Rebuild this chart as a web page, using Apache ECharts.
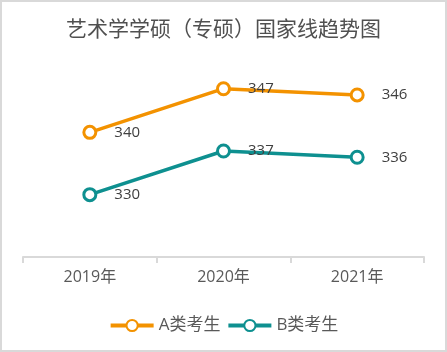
<!DOCTYPE html>
<html><head><meta charset="utf-8">
<script src="https://cdn.jsdelivr.net/npm/echarts@6/dist/echarts.min.js"></script>
<style>
html,body{margin:0;padding:0;background:#fff;}
#c{width:443px;height:348px;border:2px solid #d9d9d9;}
</style></head><body>
<div id="c"></div>
<script>
const title = '艺术学学硕（专硕）国家线趋势图';
const categories = ['2019年', '2020年', '2021年'];
const seriesNames = ['A类考生', 'B类考生'];
const seriesA = [340, 347, 346];
const seriesB = [330, 337, 336];
const colors = ['#F39200', '#0E9090'];

const chart = echarts.init(document.getElementById('c'));
function mk(name, data, color) {
  return {
    name: name, type: 'line', data: data,
    symbol: 'circle', symbolSize: 12,
    lineStyle: {width: 3.5, color: color},
    itemStyle: {color: '#fff', borderColor: color, borderWidth: 3},
    label: {show: true, position: 'right', distance: 17, color: '#404040',
      fontFamily: 'Open Sans', fontSize: 15},
    emphasis: {disabled: true}
  };
}
chart.setOption({
  animation: false,
  title: {text: title, left: 'center', top: 11,
    textStyle: {fontFamily: 'Noto Sans CJK SC', fontSize: 21, fontWeight: 'normal', color: '#505050'}},
  legend: {bottom: 11, left: 'center', itemWidth: 43, itemHeight: 14, itemGap: 6,
    lineStyle: {width: 4},
    textStyle: {fontFamily: 'Open Sans, Noto Sans CJK SC', fontSize: 17, color: '#595959'},
    data: seriesNames},
  grid: {left: 21, right: 21, top: 68, bottom: 93},
  xAxis: {type: 'category', data: categories, boundaryGap: true,
    axisLine: {lineStyle: {color: '#d9d9d9', width: 2}},
    axisTick: {show: true, length: 6, lineStyle: {color: '#d9d9d9', width: 2}},
    axisLabel: {margin: 12, color: '#595959', fontFamily: 'Open Sans, Noto Sans CJK SC', fontSize: 16}},
  yAxis: {type: 'value', min: 320, max: 350, show: false, splitLine: {show: false}},
  series: [mk(seriesNames[0], seriesA, colors[0]), mk(seriesNames[1], seriesB, colors[1])]
});
</script></body></html>
